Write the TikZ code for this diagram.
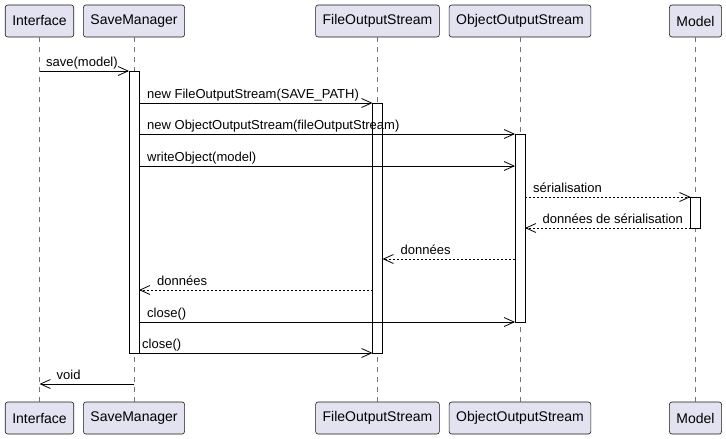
\documentclass[tikz,border=0pt]{standalone}
\usepackage{fontspec}
\setmainfont{Liberation Sans}
\usetikzlibrary{arrows.meta}
\definecolor{partfill}{HTML}{E2E2F0}
\definecolor{partdraw}{HTML}{181818}

\begin{document}
\begin{tikzpicture}[x=1pt, y=-1pt, line join=miter,
    part/.style={draw=partdraw, fill=partfill, rounded corners=2.5pt, line width=0.6pt, minimum height=32pt, inner xsep=7pt, font=\fontsize{14}{16}\selectfont},
    life/.style={draw=partdraw!60, line width=0.5pt, dash pattern=on 5pt off 5pt},
    act/.style={draw=black, fill=white, line width=0.8pt, minimum width=10pt, inner sep=0pt, outer sep=0pt},
    msg/.style={draw=black, line width=0.8pt, -{Straight Barb[length=10pt, width=9pt]}},
    ret/.style={msg, dash pattern=on 2pt off 2pt},
    lbl/.style={anchor=base west, inner sep=0pt, font=\fontsize{13}{15}\selectfont}]
    \useasboundingbox (0, 0) rectangle (726, 439);

    % participants, top and bottom
    \node[part] (iT) at (39.5, 21) {Interface};
    \node[part] (smT) at (134, 21) {SaveManager};
    \node[part] (fosT) at (377.5, 21) {FileOutputStream};
    \node[part] (oosT) at (520, 21) {ObjectOutputStream};
    \node[part] (mT) at (695.5, 21) {Model};

    \node[part] (iB) at (39.5, 418) {Interface};
    \node[part] (smB) at (134, 418) {SaveManager};
    \node[part] (fosB) at (377.5, 418) {FileOutputStream};
    \node[part] (oosB) at (520, 418) {ObjectOutputStream};
    \node[part] (mB) at (695.5, 418) {Model};

    % lifelines
    \draw[life] (iT) -- (iB);
    \draw[life] (smT) -- (smB);
    \draw[life] (fosT) -- (fosB);
    \draw[life] (oosT) -- (oosB);
    \draw[life] (mT) -- (mB);

    % activations
    \node[act, minimum height=282pt] (smA) at (134, 212) {};
    \node[act, minimum height=250pt] (fosA) at (377.5, 228) {};
    \node[act, minimum height=188pt] (oosA) at (520, 228) {};
    \node[act, minimum height=31pt] (mA) at (695.5, 212.5) {};

    % message rows
    \foreach \n/\y in {1/71, 2/103, 3/134, 4/166, 5/197, 6/228, 7/259, 8/290, 9/322, 10/353, 11/384}
        \coordinate (r\n) at (0, \y);

    \draw[msg] (iT |- r1) -- (smA.west |- r1);
    \draw[msg] (smA.east |- r2) -- (fosA.west |- r2);
    \draw[msg] (smA.east |- r3) -- (oosA.west |- r3);
    \draw[msg] (smA.east |- r4) -- (oosA.west |- r4);
    \draw[ret] (oosA.east |- r5) -- (mA.west |- r5);
    \draw[ret] (mA.west |- r6) -- (oosA.east |- r6);
    \draw[ret] (oosA.west |- r7) -- (fosA.east |- r7);
    \draw[ret] (fosA.west |- r8) -- (smA.east |- r8);
    \draw[msg] (smA.east |- r9) -- (oosA.west |- r9);
    \draw[msg] (smA.east |- r10) -- (fosA.west |- r10);
    \draw[msg] (smT |- r11) -- (iT |- r11);

    % labels
    \node[lbl] (t1) at (46, 66) {save(model)};
    \node[lbl] (t2) at (147, 98) {new FileOutputStream(SAVE\_PATH)};
    \node[lbl] (t3) at (147, 129) {new ObjectOutputStream(fileOutputStream)};
    \node[lbl] (t4) at (147, 161) {writeObject(model)};
    \node[lbl] (t5) at (533, 192) {sérialisation};
    \node[lbl] (t6) at (542.5, 223) {données de sérialisation};
    \node[lbl] (t7) at (400.5, 254) {données};
    \node[lbl] (t8) at (157, 285) {données};
    \node[lbl] (t9) at (147, 317) {close()};
    \node[lbl] (t10) at (142, 348) {close()};
    \node[lbl] (t11) at (56.5, 379) {void};
\end{tikzpicture}
\end{document}
